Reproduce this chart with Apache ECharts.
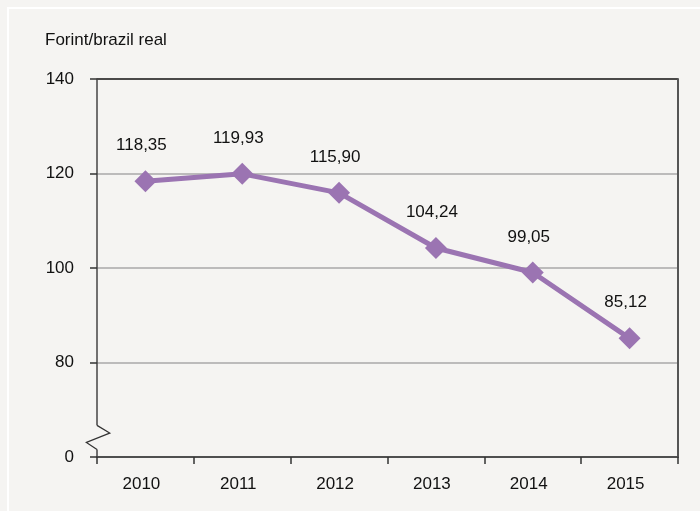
<!DOCTYPE html>
<html>
<head>
<meta charset="utf-8">
<script src="https://cdn.jsdelivr.net/npm/echarts@6/dist/echarts.min.js"></script>
<style>
html,body{margin:0;padding:0;background:#f5f4f2;}
#c{width:700px;height:511px;}
</style>
</head>
<body>
<div id="c"></div>
<script>
const years = ['2010','2011','2012','2013','2014','2015'];
const values = [118.35, 119.93, 115.90, 104.24, 99.05, 85.12];
const yTicks = [60, 80, 100, 120, 140]; // 60 is shown as "0" (broken axis)
const yTickLabels = ['0', '80', '100', '120', '140'];
const unitLabel = 'Forint/brazil real';

const font = 'Liberation Sans, Arial, sans-serif';
const fs = 17;
const chart = echarts.init(document.getElementById('c'), null, {renderer: 'canvas'});
const option = {
  backgroundColor: '#f5f4f2',
  animation: false,
  grid: {left: 97, right: 22, top: 79, bottom: 54, containLabel: false},
  title: {
    text: unitLabel, left: 40, top: 27,
    textStyle: {fontFamily: font, fontSize: fs, fontWeight: 'normal', color: '#111'}
  },
  xAxis: {
    type: 'category', data: years, boundaryGap: true,
    axisLine: {show: true, lineStyle: {color: '#444', width: 1.5}},
    axisTick: {show: true, length: 7, alignWithLabel: false, lineStyle: {color: '#333', width: 1.5}},
    axisLabel: {fontFamily: font, fontSize: fs, color: '#111', margin: 19, padding: [0, 8, 0, 0]},
    splitLine: {show: false}
  },
  yAxis: [{
    type: 'value', min: 60, max: 140, interval: 20,
    axisLine: {show: true, lineStyle: {color: '#444', width: 1.5}},
    axisTick: {show: true, length: 7, lineStyle: {color: '#333', width: 1.5}},
    axisLabel: {
      fontFamily: font, fontSize: fs, color: '#111', margin: 23,
      formatter: function (v) { const i = yTicks.indexOf(v); return i >= 0 ? yTickLabels[i] : ''; }
    },
    splitLine: {show: true, lineStyle: {color: ['#444', '#a8a8a8', '#a8a8a8', '#a8a8a8', '#111'], width: 1.5}}
  }, {
    type: 'value', min: 60, max: 140, interval: 20, position: 'right',
    axisLine: {show: true, lineStyle: {color: '#555', width: 2}},
    axisTick: {show: false}, axisLabel: {show: false}, splitLine: {show: false}
  }],
  series: [{
    type: 'line', data: values, yAxisIndex: 0,
    symbol: 'diamond', symbolSize: 22,
    lineStyle: {color: '#9b74b2', width: 5},
    itemStyle: {color: '#9b74b2'},
    label: {
      show: true, position: 'top', distance: 16, offset: [-4, 0],
      fontFamily: font, fontSize: fs, color: '#111',
      formatter: function (p) { return p.value.toFixed(2).replace('.', ','); }
    },
    z: 3
  }]
};
chart.setOption(option);

// axis break zigzag between "0" and 80
const yA = chart.convertToPixel({yAxisIndex: 0}, 66.7);
const yB = chart.convertToPixel({yAxisIndex: 0}, 61.6);
const xAxisX = chart.getModel().getComponent('grid').coordinateSystem.getRect().x;
const h = yB - yA;
chart.setOption({
  graphic: [
    {type: 'rect', shape: {x: 8, y: 8, width: 720, height: 520}, style: {fill: 'none', stroke: '#ffffff', lineWidth: 2}, silent: true},
    {type: 'rect', shape: {x: xAxisX - 2, y: yA, width: 4, height: h}, style: {fill: '#f5f4f2'}, z: 100, silent: true},
    {type: 'polyline', shape: {points: [
      [xAxisX, yA], [xAxisX + 12.7, yA + h * 0.32], [xAxisX - 10.6, yA + h * 0.71], [xAxisX, yB]
    ]}, style: {stroke: '#333', lineWidth: 1.3, fill: 'none'}, z: 101, silent: true}
  ]
});
</script>
</body>
</html>
